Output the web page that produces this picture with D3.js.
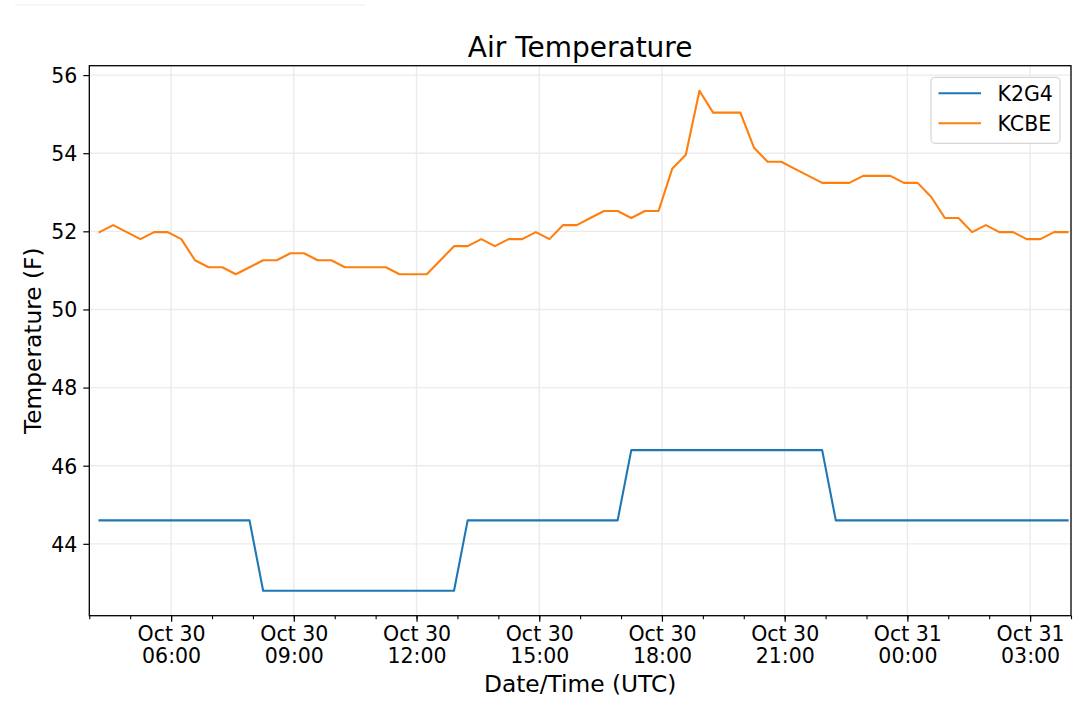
<!DOCTYPE html>
<html lang="en">
<head>
<meta charset="utf-8">
<title>Air Temperature</title>
<script src="https://d3js.org/d3.v7.min.js"></script>
<style>
  body { margin: 0; background: #fff; }
  svg text { font-family: "DejaVu Sans", sans-serif; fill: #000; }
</style>
</head>
<body>
<svg id="chart" width="1080" height="707"></svg>
<script>
// observation clock: every 20 minutes, Oct 30 04:15 UTC to Oct 31 03:55 UTC
var obsStart = "2019-10-30T04:15:00Z";
var obsEnd = "2019-10-31T04:00:00Z";
var stations = ["K2G4", "KCBE"];

// air temperature (F)
var k2g4 = [
  44.6, 44.6, 44.6, 44.6, 44.6, 44.6, 44.6, 44.6, 44.6, 44.6, 44.6, 44.6,
  42.8, 42.8, 42.8, 42.8, 42.8, 42.8, 42.8, 42.8, 42.8, 42.8, 42.8, 42.8, 42.8, 42.8, 42.8,
  44.6, 44.6, 44.6, 44.6, 44.6, 44.6, 44.6, 44.6, 44.6, 44.6, 44.6, 44.6,
  46.4, 46.4, 46.4, 46.4, 46.4, 46.4, 46.4, 46.4, 46.4, 46.4, 46.4, 46.4, 46.4, 46.4, 46.4,
  44.6, 44.6, 44.6, 44.6, 44.6, 44.6, 44.6, 44.6, 44.6, 44.6, 44.6, 44.6, 44.6, 44.6, 44.6, 44.6, 44.6, 44.6
];
var kcbe = [
  51.98, 52.16, 51.98, 51.8, 51.98, 51.98, 51.8, 51.26, 51.08, 51.08, 50.9, 51.08,
  51.26, 51.26, 51.44, 51.44, 51.26, 51.26, 51.08, 51.08, 51.08, 51.08, 50.9, 50.9,
  50.9, 51.26, 51.62, 51.62, 51.8, 51.62, 51.8, 51.8, 51.98, 51.8, 52.16, 52.16,
  52.34, 52.52, 52.52, 52.34, 52.52, 52.52, 53.6, 53.96, 55.6, 55.04, 55.04, 55.04,
  54.14, 53.78, 53.78, 53.6, 53.42, 53.24, 53.24, 53.24, 53.42, 53.42, 53.42, 53.24,
  53.24, 52.88, 52.34, 52.34, 51.98, 52.16, 51.98, 51.98, 51.8, 51.8, 51.98, 51.98
];
var xLimits = ["2019-10-30T04:00:00Z", "2019-10-31T04:00:00Z"];
var yTicks = [44, 46, 48, 50, 52, 54, 56];

var colors = ["#1f77b4", "#ff7f0e"];
var times = d3.utcMinute.range(new Date(obsStart), new Date(obsEnd), 20);
var series = [k2g4, kcbe];

var svg = d3.select("#chart");
var pLeft = 89.3, pRight = 1071, pTop = 65.7, pBottom = 615.7;

var x = d3.scaleUtc()
  .domain(xLimits.map(function (d) { return new Date(d); }))
  .range([pLeft, pRight]);

var lo = d3.min(series, function (s) { return d3.min(s); });
var hi = d3.max(series, function (s) { return d3.max(s); });
var pad = (hi - lo) * 0.05;
var y = d3.scaleLinear().domain([lo - pad, hi + pad]).range([pBottom, pTop]);

// faint stray line top-left
svg.append("line")
  .attr("x1", 15).attr("x2", 365).attr("y1", 5).attr("y2", 5)
  .attr("stroke", "#f3f3f3").attr("stroke-width", 1.5);

var x0 = x.domain()[0], x1 = x.domain()[1];
var majorX = d3.utcHour.range(x0, x1).filter(function (d) {
  return d.getUTCHours() % 3 === 0 && +d > +x0;
});
var minorX = d3.utcHour.range(x0, new Date(+x1 + 1));

// grid
var grid = svg.append("g").attr("stroke", "#ebebeb").attr("stroke-width", 1.4);
grid.selectAll(".gx").data(majorX).join("line")
  .attr("x1", function (d) { return x(d); }).attr("x2", function (d) { return x(d); })
  .attr("y1", pTop).attr("y2", pBottom);
grid.selectAll(".gy").data(yTicks).join("line")
  .attr("x1", pLeft).attr("x2", pRight)
  .attr("y1", function (d) { return y(d); }).attr("y2", function (d) { return y(d); });

// lines
var line = d3.line()
  .x(function (d, i) { return x(times[i]); })
  .y(function (d) { return y(d); });

svg.append("g").selectAll("path").data(series).join("path")
  .attr("fill", "none")
  .attr("stroke", function (d, i) { return colors[i]; })
  .attr("stroke-width", 2.1)
  .attr("stroke-linecap", "square")
  .attr("stroke-linejoin", "round")
  .attr("d", line);

// axes
var fmtDay = d3.utcFormat("%b %d"), fmtHour = d3.utcFormat("%H:%M");

var xAxis = svg.append("g").attr("transform", "translate(0," + pBottom + ")");
xAxis.call(d3.axisBottom(x).tickValues(minorX).tickSize(3.5).tickFormat(""))
  .call(function (g) { g.select(".domain").remove(); });
xAxis.selectAll(".tick line").attr("stroke", "#000").attr("stroke-width", 1.1);

var xMajor = svg.append("g").attr("transform", "translate(0," + pBottom + ")");
xMajor.call(d3.axisBottom(x).tickValues(majorX).tickSize(6).tickFormat(""))
  .call(function (g) { g.select(".domain").remove(); });
xMajor.selectAll(".tick line").attr("stroke", "#000").attr("stroke-width", 1.2);
var lbl = xMajor.selectAll(".tick").append("text")
  .attr("text-anchor", "middle").attr("font-size", "20.5px").attr("fill", "#000");
lbl.append("tspan").attr("x", 0).attr("y", 25).text(function (d) { return fmtDay(d); });
lbl.append("tspan").attr("x", 0).attr("y", 47.8).text(function (d) { return fmtHour(d); });

var yAxis = svg.append("g").attr("transform", "translate(" + pLeft + ",0)");
yAxis.call(d3.axisLeft(y).tickValues(yTicks).tickSize(6).tickPadding(6).tickFormat(d3.format("d")))
  .call(function (g) { g.select(".domain").remove(); });
yAxis.selectAll(".tick line").attr("stroke", "#000").attr("stroke-width", 1.2);
yAxis.selectAll(".tick text").attr("font-size", "20.5px").attr("fill", "#000")
  .attr("font-family", "DejaVu Sans").attr("dy", "0.36em");

// spines
svg.append("rect")
  .attr("x", pLeft).attr("y", pTop).attr("width", pRight - pLeft).attr("height", pBottom - pTop)
  .attr("fill", "none").attr("stroke", "#000").attr("stroke-width", 1.3);

// title and labels
svg.append("text").attr("x", (pLeft + pRight) / 2).attr("y", 56.7)
  .attr("text-anchor", "middle").attr("font-size", "28px").text("Air Temperature");
svg.append("text").attr("x", (pLeft + pRight) / 2).attr("y", 691.7)
  .attr("text-anchor", "middle").attr("font-size", "23.3px").text("Date/Time (UTC)");
svg.append("text")
  .attr("transform", "translate(41," + (pTop + pBottom) / 2 + ") rotate(-90)")
  .attr("text-anchor", "middle").attr("font-size", "23.3px").text("Temperature (F)");

// legend
var legend = svg.append("g");
legend.append("rect")
  .attr("x", 931).attr("y", 77.3).attr("width", 129).attr("height", 66).attr("rx", 4)
  .attr("fill", "#fff").attr("fill-opacity", 0.8)
  .attr("stroke", "#d6d6d6").attr("stroke-width", 1.2);
var items = legend.selectAll(".item").data(stations).join("g")
  .attr("transform", function (d, i) { return "translate(0," + (93.3 + i * 30) + ")"; });
items.append("line").attr("x1", 938.5).attr("x2", 981)
  .attr("stroke", function (d, i) { return colors[i]; }).attr("stroke-width", 2.1);
items.append("text").attr("x", 997.5).attr("y", 7.6).attr("font-size", "20.5px")
  .text(function (d) { return d; });
</script>
</body>
</html>
